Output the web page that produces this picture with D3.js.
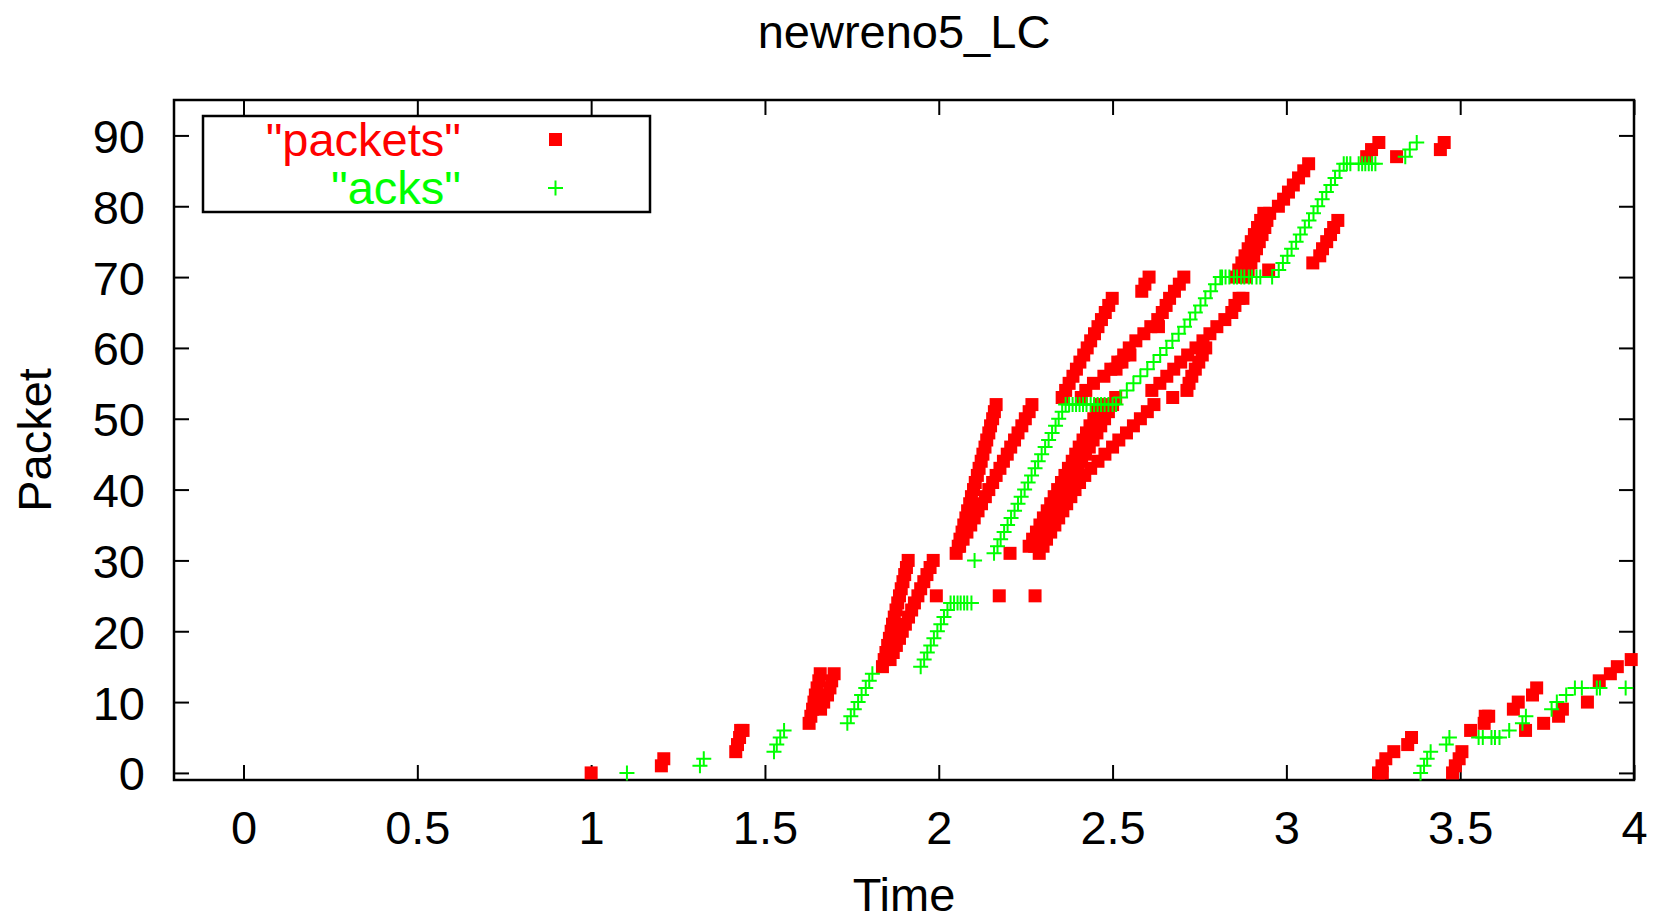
<!DOCTYPE html>
<html>

<head>
    <title>newreno5_LC</title>
    <script src="https://cdn.jsdelivr.net/npm/d3@7/dist/d3.min.js"></script>
    <style>
        body { margin: 0; background: #fff; }
        text { font-family: "Liberation Sans", Arial, Helvetica, sans-serif; }
    </style>
</head>

<body>
    <svg width="1657" height="922" id="mainsvg"></svg>
    <script>
        // [time, packet number]
        const packets = [
            [1.0, 0], [1.202, 1], [1.209, 2],
            [1.416, 3], [1.421, 4], [1.427, 5], [1.43, 6], [1.437, 6],
            [1.627, 7], [1.632, 8], [1.637, 9], [1.641, 10], [1.645, 11], [1.65, 12], [1.655, 13], [1.659, 14],
            [1.66, 9], [1.669, 10], [1.68, 11], [1.687, 12], [1.692, 13], [1.699, 14],
            [1.838, 15], [1.843, 16], [1.848, 17], [1.853, 18], [1.858, 19], [1.863, 20], [1.867, 21], [1.872, 22],
            [1.877, 23], [1.882, 24], [1.887, 25], [1.892, 26], [1.897, 27], [1.902, 28], [1.907, 29], [1.912, 30],
            [1.86, 16], [1.869, 17], [1.878, 18], [1.887, 19], [1.895, 20], [1.904, 21], [1.913, 22], [1.922, 23],
            [1.93, 24], [1.94, 25], [1.948, 26], [1.957, 27], [1.966, 28], [1.975, 29], [1.984, 30],
            [1.993, 25], [2.174, 25], [2.277, 25], [2.205, 31],
            [2.05, 31], [2.056, 32], [2.061, 33], [2.067, 34], [2.072, 35], [2.078, 36], [2.083, 37], [2.089, 38],
            [2.094, 39], [2.1, 40], [2.105, 41], [2.111, 42], [2.116, 43], [2.122, 44], [2.127, 45], [2.133, 46],
            [2.138, 47], [2.144, 48], [2.149, 49], [2.155, 50], [2.16, 51], [2.165, 52],
            [2.06, 32], [2.07, 33], [2.081, 34], [2.092, 35], [2.102, 36], [2.113, 37], [2.123, 38], [2.134, 39],
            [2.144, 40], [2.155, 41], [2.165, 42], [2.176, 43], [2.186, 44], [2.197, 45], [2.207, 46], [2.218, 47],
            [2.228, 48], [2.239, 49], [2.249, 50], [2.26, 51], [2.268, 52],
            [2.26, 32], [2.27, 33], [2.281, 34], [2.291, 35], [2.301, 36], [2.312, 37], [2.322, 38], [2.332, 39],
            [2.342, 40], [2.353, 41], [2.363, 42], [2.373, 43], [2.384, 44], [2.394, 45], [2.404, 46], [2.415, 47],
            [2.425, 48], [2.435, 49], [2.446, 50], [2.455, 51], [2.463, 52],
            [2.276, 32], [2.287, 33], [2.299, 34], [2.31, 35], [2.321, 36], [2.333, 37], [2.344, 38], [2.356, 39],
            [2.367, 40], [2.378, 41], [2.389, 42], [2.4, 43], [2.411, 44], [2.422, 45], [2.433, 46], [2.444, 47],
            [2.455, 48], [2.466, 49], [2.477, 50], [2.488, 51], [2.5, 52],
            [2.289, 31], [2.3, 32], [2.31, 33], [2.322, 34], [2.334, 35], [2.345, 36], [2.357, 37], [2.368, 38],
            [2.38, 39], [2.392, 40],
            [2.405, 41], [2.42, 42], [2.437, 43], [2.458, 44], [2.478, 45], [2.5, 46], [2.518, 47], [2.54, 48],
            [2.56, 49], [2.58, 50], [2.6, 51], [2.619, 52],
            [2.509, 53],
            [2.355, 53], [2.365, 54], [2.375, 55], [2.386, 56], [2.396, 57], [2.406, 58], [2.417, 59], [2.427, 60],
            [2.437, 61], [2.448, 62], [2.458, 63], [2.468, 64], [2.479, 65], [2.489, 66], [2.499, 67],
            [2.41, 53], [2.423, 54], [2.445, 55], [2.475, 56], [2.495, 57], [2.515, 58], [2.532, 59], [2.548, 60],
            [2.567, 61], [2.59, 62], [2.61, 63], [2.63, 64], [2.643, 65], [2.654, 66], [2.664, 67], [2.678, 68],
            [2.692, 69], [2.705, 70],
            [2.51, 57], [2.527, 58], [2.55, 59], [2.632, 63],
            [2.584, 68], [2.593, 69], [2.605, 70],
            [2.613, 54], [2.636, 55], [2.656, 56], [2.676, 57], [2.696, 58], [2.716, 59], [2.74, 60], [2.76, 61],
            [2.78, 62], [2.8, 63], [2.823, 64], [2.843, 65], [2.852, 66], [2.864, 67], [2.875, 67],
            [2.673, 53], [2.714, 54], [2.72, 55], [2.728, 56], [2.738, 57], [2.748, 58], [2.758, 59], [2.768, 60],
            [2.854, 70], [2.863, 71], [2.872, 72], [2.881, 73], [2.89, 74], [2.899, 75], [2.908, 76], [2.917, 77],
            [2.926, 78], [2.935, 79],
            [2.883, 70], [2.89, 71], [2.898, 72], [2.906, 73], [2.914, 74], [2.922, 75], [2.93, 76], [2.938, 77],
            [2.944, 78], [2.952, 79],
            [2.949, 71],
            [2.977, 80], [2.992, 81], [3.006, 82], [3.02, 83], [3.035, 84], [3.05, 85], [3.064, 86],
            [3.076, 72], [3.096, 73], [3.104, 74], [3.116, 75], [3.127, 76], [3.136, 77], [3.148, 78],
            [3.231, 87], [3.245, 88], [3.266, 89], [3.317, 87], [3.443, 88], [3.454, 89],
            [3.265, 0], [3.276, 0], [3.275, 1], [3.286, 2], [3.309, 3], [3.349, 4], [3.36, 5],
            [3.478, 0], [3.486, 1], [3.497, 2], [3.505, 3],
            [3.53, 6], [3.569, 7], [3.572, 8], [3.582, 8],
            [3.653, 9], [3.667, 10], [3.708, 11], [3.72, 12],
            [3.688, 6], [3.74, 7], [3.783, 8], [3.794, 9], [3.866, 10],
            [3.9, 13], [3.932, 14], [3.952, 15], [3.992, 16]
        ];

        const acks = [
            [1.103, 0], [1.313, 1], [1.324, 2],
            [1.526, 3], [1.534, 4], [1.544, 5], [1.555, 6],
            [1.737, 7], [1.747, 8], [1.757, 9], [1.768, 10], [1.778, 11], [1.79, 12], [1.8, 13], [1.809, 14],
            [1.948, 15], [1.958, 16], [1.967, 17], [1.977, 18], [1.986, 19], [1.996, 20], [2.006, 21], [2.015, 22],
            [2.025, 23], [2.034, 24],
            [2.044, 24], [2.054, 24], [2.063, 24], [2.073, 24], [2.082, 24], [2.094, 24],
            [2.103, 30],
            [2.159, 31], [2.169, 32], [2.178, 33], [2.188, 34], [2.198, 35], [2.208, 36], [2.218, 37], [2.228, 38],
            [2.237, 39], [2.247, 40], [2.257, 41], [2.267, 42], [2.277, 43], [2.286, 44], [2.296, 45], [2.306, 46],
            [2.316, 47], [2.326, 48], [2.336, 49], [2.345, 50], [2.355, 51], [2.365, 52],
            [2.375, 52], [2.385, 52], [2.395, 52], [2.405, 52], [2.415, 52], [2.425, 52], [2.437, 52], [2.447, 52],
            [2.457, 52], [2.467, 52], [2.477, 52], [2.488, 52], [2.5, 52], [2.51, 52],
            [2.523, 53], [2.541, 54], [2.56, 55], [2.58, 56], [2.6, 57], [2.618, 58], [2.637, 59], [2.655, 60],
            [2.672, 61], [2.69, 62], [2.707, 63], [2.723, 64], [2.738, 65], [2.753, 66], [2.767, 67], [2.782, 68],
            [2.796, 69], [2.81, 70],
            [2.815, 70], [2.825, 70], [2.836, 70], [2.849, 70], [2.858, 70], [2.87, 70], [2.879, 70], [2.892, 70],
            [2.901, 70], [2.914, 70], [2.925, 70], [2.959, 70],
            [2.978, 71], [2.99, 72], [3.003, 73], [3.015, 74], [3.028, 75], [3.04, 76], [3.053, 77], [3.065, 78],
            [3.078, 79], [3.09, 80], [3.103, 81], [3.115, 82], [3.128, 83], [3.14, 84], [3.153, 85], [3.165, 86],
            [3.174, 86], [3.184, 86], [3.208, 86], [3.218, 86], [3.227, 86], [3.237, 86], [3.246, 86], [3.256, 86],
            [3.342, 87], [3.355, 88], [3.375, 89],
            [3.386, 0], [3.396, 1], [3.405, 2], [3.415, 3], [3.46, 4], [3.469, 5],
            [3.553, 5], [3.565, 5], [3.59, 5], [3.6, 5], [3.613, 5],
            [3.641, 6], [3.679, 7], [3.689, 8], [3.763, 9], [3.778, 10], [3.805, 11],
            [3.83, 12], [3.85, 12], [3.893, 12], [3.902, 12], [3.976, 12]
        ];

        const xTicks = [0, 0.5, 1, 1.5, 2, 2.5, 3, 3.5, 4];
        const yTicks = [0, 10, 20, 30, 40, 50, 60, 70, 80, 90];
        const legendLabels = ['"packets"', '"acks"'];

        const svg = d3.select('#mainsvg');
        const frame = { left: 174, right: 1634, top: 100, bottom: 780 };
        const red = '#ff0000', green = '#00ff00';
        const fontSize = 47;

        const x = d3.scaleLinear().domain([-0.2, 4]).range([frame.left, frame.right]);
        const y = d3.scaleLinear().domain([-1, 95]).range([frame.bottom, frame.top]);

        // ticks point inwards, gnuplot style, mirrored on top and right
        const styleAxis = g => {
            g.select('.domain').remove();
            g.selectAll('.tick line').attr('stroke', '#000').attr('stroke-width', 2);
            g.selectAll('.tick text').attr('fill', '#000').attr('font-size', fontSize)
                .attr('font-family', '"Liberation Sans", Arial, sans-serif');
        };

        svg.append('g').attr('transform', `translate(0,${frame.bottom})`)
            .call(d3.axisBottom(x).tickValues(xTicks).tickSizeInner(-15).tickSizeOuter(0)
                .tickPadding(31).tickFormat(d3.format('~g')))
            .call(styleAxis);
        svg.append('g').attr('transform', `translate(0,${frame.top})`)
            .call(d3.axisTop(x).tickValues(xTicks).tickSizeInner(-15).tickSizeOuter(0).tickFormat(''))
            .call(styleAxis);
        svg.append('g').attr('transform', `translate(${frame.left},0)`)
            .call(d3.axisLeft(y).tickValues(yTicks).tickSizeInner(-15).tickSizeOuter(0).tickPadding(29))
            .call(styleAxis)
            .selectAll('.tick text').attr('dy', '0.36em');
        svg.append('g').attr('transform', `translate(${frame.right},0)`)
            .call(d3.axisRight(y).tickValues(yTicks).tickSizeInner(-15).tickSizeOuter(0).tickFormat(''))
            .call(styleAxis);

        svg.append('rect')
            .attr('x', frame.left).attr('y', frame.top)
            .attr('width', frame.right - frame.left).attr('height', frame.bottom - frame.top)
            .attr('fill', 'none').attr('stroke', '#000').attr('stroke-width', 2.5);

        // packets: filled squares
        svg.append('g').selectAll('rect')
            .data(packets)
            .join('rect')
            .attr('x', d => x(d[0]) - 6.5)
            .attr('y', d => y(d[1]) - 6.5)
            .attr('width', 13).attr('height', 13)
            .attr('fill', red);

        // acks: plus signs, drawn on top
        const plus = 'M-7.5,0H7.5M0,-7.5V7.5';
        svg.append('g').selectAll('path')
            .data(acks)
            .join('path')
            .attr('transform', d => `translate(${x(d[0])},${y(d[1])})`)
            .attr('d', plus)
            .attr('fill', 'none')
            .attr('stroke', green)
            .attr('stroke-width', 2);

        // legend
        const legend = svg.append('g');
        legend.append('rect')
            .attr('x', 203).attr('y', 116).attr('width', 447).attr('height', 96)
            .attr('fill', '#fff').attr('stroke', '#000').attr('stroke-width', 2.5);
        legend.selectAll('text')
            .data(legendLabels)
            .join('text')
            .attr('x', 461)
            .attr('y', (d, i) => 156 + i * 48)
            .attr('text-anchor', 'end')
            .attr('font-size', fontSize)
            .attr('fill', (d, i) => i === 0 ? red : green)
            .text(d => d);
        legend.append('rect')
            .attr('x', 549).attr('y', 133).attr('width', 13).attr('height', 13)
            .attr('fill', red);
        legend.append('path')
            .attr('transform', 'translate(555.5,188)')
            .attr('d', plus)
            .attr('stroke', green).attr('stroke-width', 2);

        // title and axis labels
        const midX = (frame.left + frame.right) / 2;
        svg.append('text')
            .attr('x', midX).attr('y', 48)
            .attr('text-anchor', 'middle').attr('font-size', fontSize)
            .text('newreno5_LC');
        svg.append('text')
            .attr('x', midX).attr('y', 911)
            .attr('text-anchor', 'middle').attr('font-size', fontSize)
            .text('Time');
        svg.append('text')
            .attr('transform', `translate(51,${(frame.top + frame.bottom) / 2}) rotate(-90)`)
            .attr('text-anchor', 'middle').attr('font-size', fontSize)
            .text('Packet');
    </script>
</body>

</html>
